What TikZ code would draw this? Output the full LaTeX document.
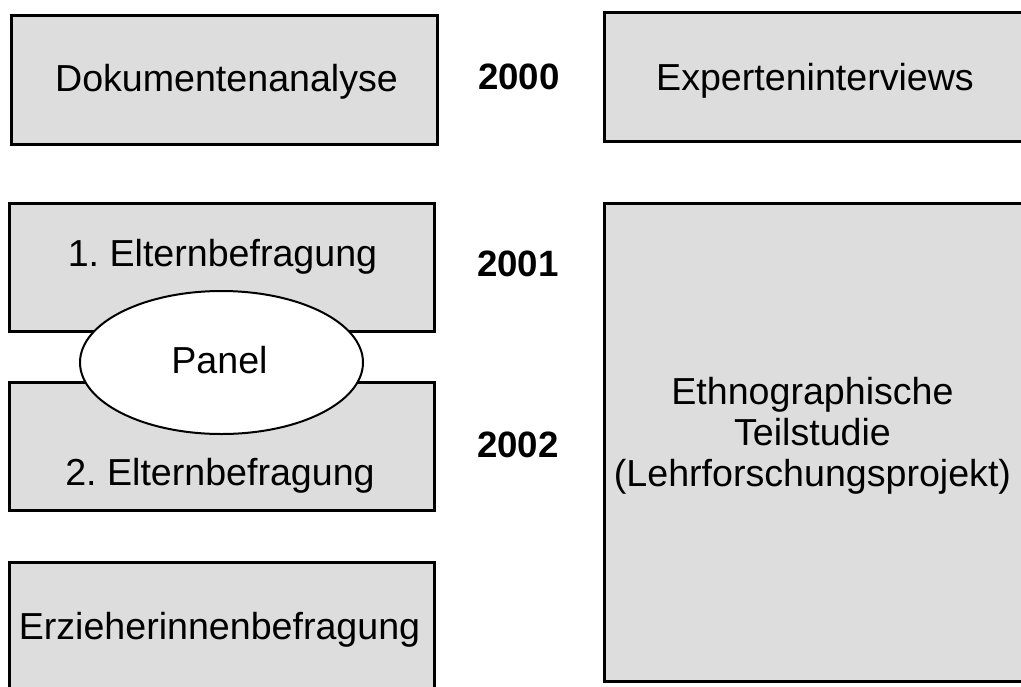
\documentclass[tikz,border=0pt]{standalone}
\usepackage{fontspec}
\setmainfont{Liberation Sans}
\usetikzlibrary{shapes.geometric}
\definecolor{boxgray}{HTML}{DDDDDD}

\begin{document}
\begin{tikzpicture}[
  x=0.75pt, y=-0.75pt,
  box/.style={draw, line width=2.25pt, fill=boxgray, inner sep=0pt, minimum width=318.75pt, minimum height=96pt},
  panel/.style={draw, ellipse, line width=1.5pt, fill=white, inner sep=0pt, minimum width=212.25pt, minimum height=107.25pt},
  txt/.style={font=\fontsize{28.2}{30.6}\selectfont, inner sep=0pt},
  year/.style={font=\bfseries\fontsize{27.5}{30}\selectfont, inner sep=0pt}
]
  \clip (0,0) rectangle (1021,686);

  % left column
  \node[box, minimum width=319.5pt, minimum height=96.75pt] (doku) at (224.5,80) {};
  \node[box] (eltern1) at (222,267.5) {};
  \node[box] (eltern2) at (222,446.5) {};
  \node[box] (erzieher) at (222,626.5) {};
  \node[panel] (panel) at (221.5,362.5) {};

  % right column
  \node[box, minimum height=96.75pt] (experten) at (817,77) {};
  \node[box, minimum height=358.5pt] (ethno) at (817,442.5) {};

  % texts
  \node[txt, anchor=base] (t-doku) at (226.5,91) {Dokumentenanalyse};
  \node[txt, anchor=base] (t-eltern1) at (222.5,266) {1.\ Elternbefragung};
  \node[txt, anchor=base] (t-panel) at (219.5,373) {Panel};
  \node[txt, anchor=base] (t-eltern2) at (220,485) {2.\ Elternbefragung};
  \node[txt, anchor=base] (t-erzieher) at (219.5,639) {Erzieherinnenbefragung};
  \node[txt, anchor=base] (t-experten) at (815,90) {Experteninterviews};
  \node[txt, align=center] (t-ethno) at (812.5,436) {Ethnographische\\Teilstudie\\(Lehrforschungsprojekt)};

  % years
  \node[year, anchor=base] (y2000) at (519,89) {2000};
  \node[year, anchor=base] (y2001) at (518,276) {2001};
  \node[year, anchor=base] (y2002) at (518,457) {2002};
\end{tikzpicture}
\end{document}
